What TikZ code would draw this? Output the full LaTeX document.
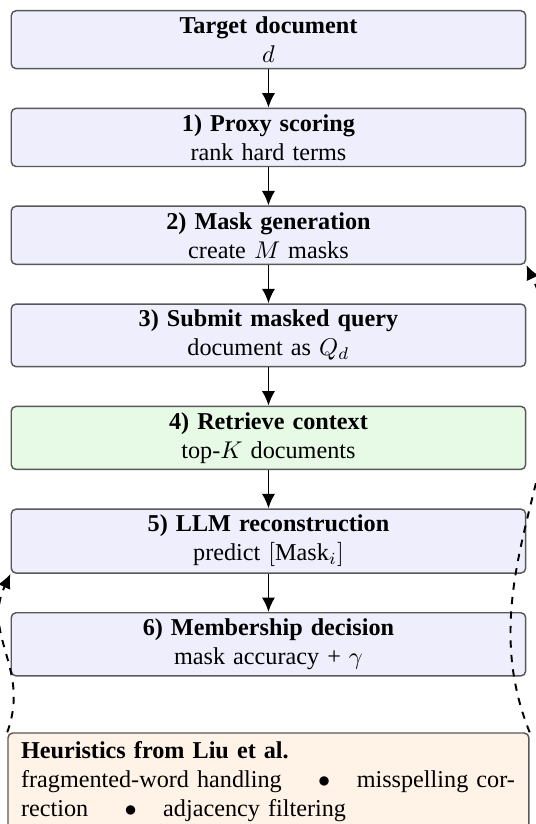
\documentclass[tikz,border=0pt]{standalone}
\usepackage{fontspec}
\setmainfont{Liberation Serif}
\usepackage{amsmath}
\usetikzlibrary{arrows.meta,positioning,calc}
\definecolor{stagefill}{RGB}{238,238,252}
\definecolor{retrfill}{RGB}{230,250,230}
\definecolor{heurfill}{RGB}{255,242,230}
\tikzset{
stage/.style={draw=black!65,line width=0.6pt,rounded corners=2pt,fill=stagefill,
  text width=207.6pt,align=center,inner sep=2.5pt},
heur/.style={draw=black!65,line width=0.6pt,rounded corners=2pt,fill=heurfill,
  text width=204.5pt,align=left,inner xsep=5.4pt,inner ysep=3.3pt},
flow/.style={-{Latex[length=6pt,width=5.5pt]},line width=0.8pt},
loopback/.style={-{Latex[length=6pt,width=5.5pt]},dashed,line width=0.8pt}
}

\begin{document}
\begin{tikzpicture}[node distance=15.8pt]
\useasboundingbox (-110.95pt,4.13pt) rectangle (110.55pt,-336.4pt);
% pipeline
\node[stage,anchor=north] (doc) at (0,0) {\textbf{Target document}\\$d$};
\node[stage,below=of doc] (s1) {\textbf{1) Proxy scoring}\\rank hard terms};
\node[stage,below=of s1] (s2) {\textbf{2) Mask generation}\\create $M$ masks};
\node[stage,below=of s2] (s3) {\textbf{3) Submit masked query}\\document as $Q_d$};
\node[stage,fill=retrfill,below=of s3] (s4) {\textbf{4) Retrieve context}\\top-$K$ documents};
\node[stage,below=of s4] (s5) {\textbf{5) LLM reconstruction}\\predict $[\mathrm{Mask}_i]$};
\node[stage,below=of s5] (s6) {\textbf{6) Membership decision}\\mask accuracy + $\gamma$};
% heuristics
\node[heur,below=23pt of s6] (heur) {\textbf{Heuristics from Liu et al.}\\
fragmented-word handling\hspace{15pt}$\bullet$\hspace{11pt}misspelling cor-\\
rection\hspace{15pt}$\bullet$\hspace{11pt}adjacency filtering};
% arrows
\foreach \a/\b in {doc/s1,s1/s2,s2/s3,s3/s4,s4/s5,s5/s6}
  \draw[flow] (\a) -- (\b);
\draw[loopback] (heur.north west) to[out=70,in=-115,looseness=1.1] (s5.south west);
\draw[loopback] (heur.north east) to[out=112,in=-65] (s2.south east);
\end{tikzpicture}
\end{document}
